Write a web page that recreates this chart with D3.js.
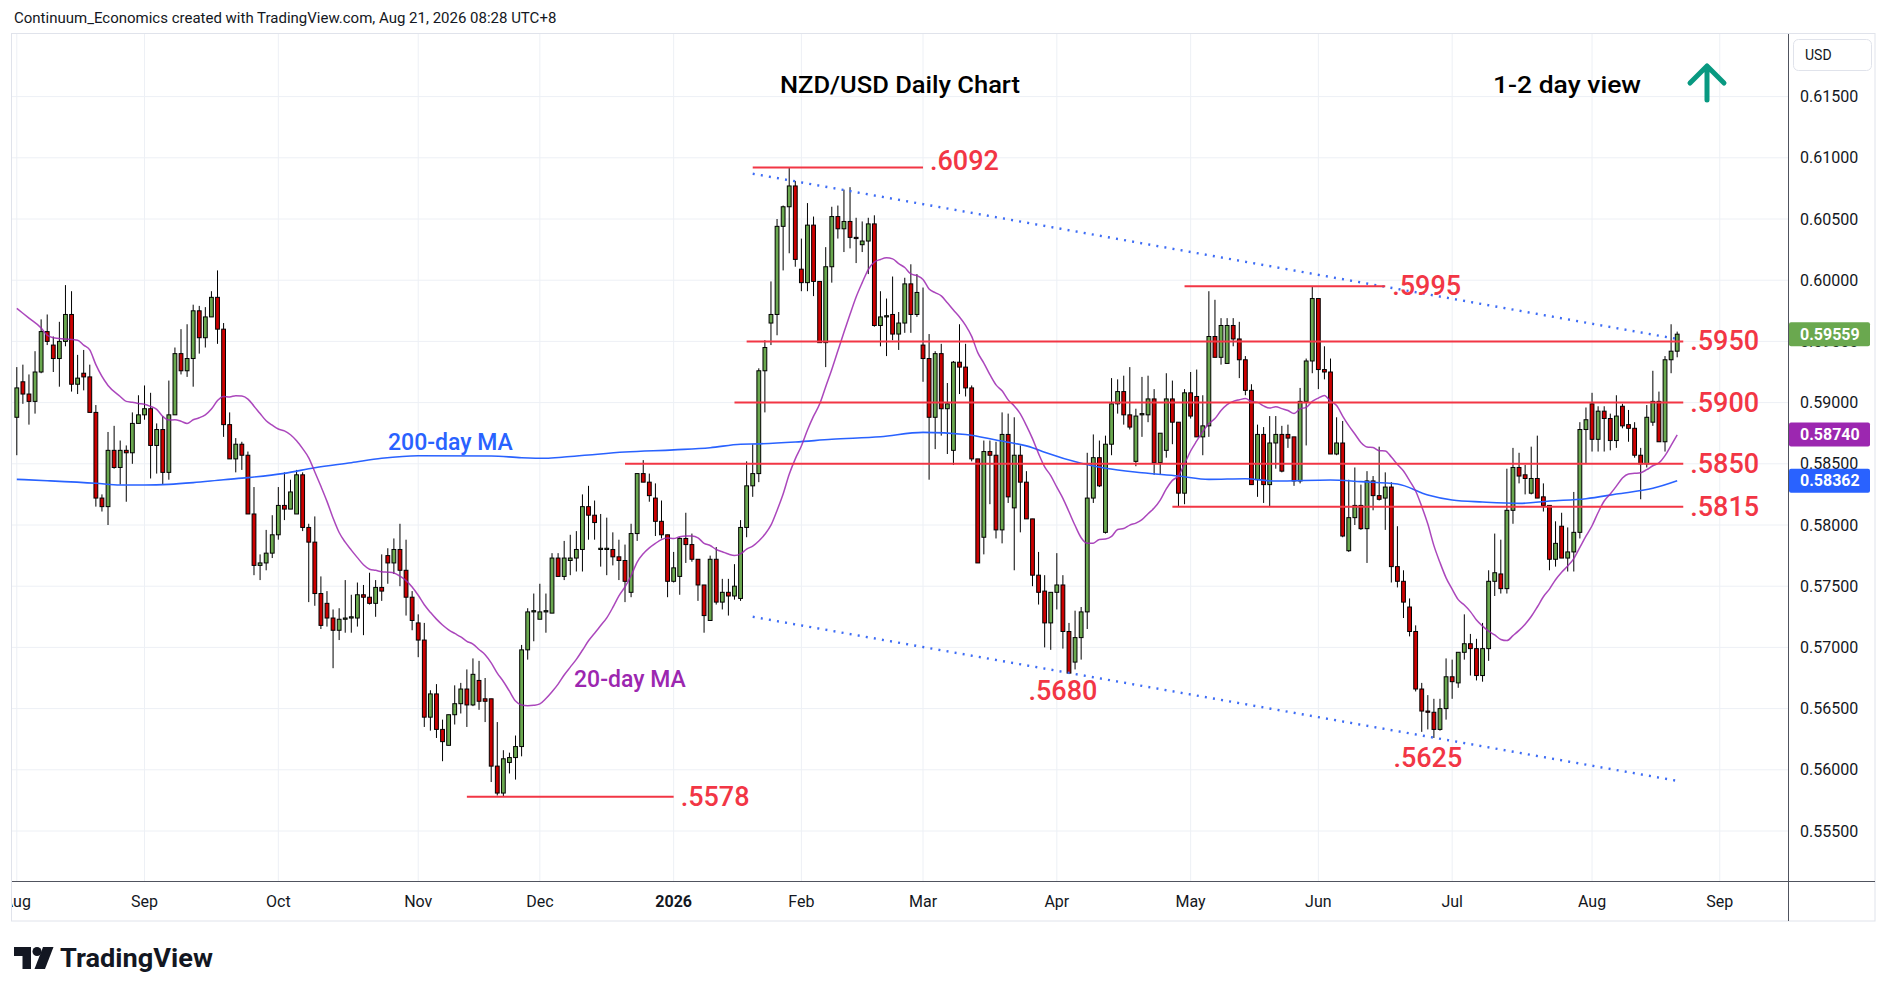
<!DOCTYPE html>
<html>
<head>
<meta charset="utf-8">
<title>NZD/USD Daily Chart</title>
<script src="https://cdn.jsdelivr.net/npm/d3@7/dist/d3.min.js"></script>
<style>
  html, body { margin: 0; padding: 0; background: #ffffff; }
  #chart { width: 1888px; height: 996px; }
  text { font-family: Roboto, "Noto Sans", sans-serif; }
</style>
</head>
<body>
<div id="chart"></div>
<script>
// ---- data: NZD/USD daily bars, Aug 1 2025 -> Aug 21 2026 (weekdays, no Dec 25 / Jan 1)
const startDate = '2025-08-01';
const calendarEnd = '2026-09-30';
const holidays = ['2025-12-25', '2026-01-01'];

const opens = [
  .5888,.5917,.5907,.5901,.5925,.5958,.5947,.5936,.5950,.5972,
  .5915,.5924,.5921,.5892,.5822,.5815,.5861,.5847,.5861,.5859,
  .5883,.5890,.5895,.5865,.5878,.5843,.5890,.5940,.5926,.5936,
  .5975,.5953,.5970,.5986,.5960,.5882,.5854,.5866,.5857,.5809,
  .5767,.5769,.5777,.5792,.5816,.5813,.5809,.5841,.5798,.5786,
  .5744,.5736,.5724,.5714,.5723,.5724,.5724,.5743,.5741,.5736,
  .5749,.5775,.5769,.5780,.5763,.5741,.5720,.5706,.5643,.5662,
  .5633,.5620,.5645,.5654,.5666,.5653,.5673,.5658,.5658,.5603,
  .5581,.5606,.5610,.5619,.5698,.5729,.5723,.5729,.5728,.5773,
  .5758,.5771,.5773,.5780,.5815,.5808,.5780,.5780,.5780,.5774,
  .5771,.5745,.5793,.5842,.5835,.5822,.5803,.5792,.5754,.5758,
  .5789,.5784,.5772,.5751,.5722,.5772,.5737,.5745,.5742,.5740,
  .5798,.5832,.5842,.5926,.5965,.5972,.6044,.6060,.6077,.6009,
  .5998,.6045,.5999,.5949,.6011,.6052,.6042,.6048,.6035,.6029,
  .6032,.6046,.5963,.5970,.5972,.5956,.5965,.5997,.5972,.5947,
  .5936,.5888,.5940,.5895,.5861,.5933,.5929,.5912,.5854,.5790,
  .5860,.5857,.5796,.5874,.5814,.5857,.5835,.5805,.5759,.5746,
  .5720,.5745,.5751,.5713,.5688,.5708,.5729,.5822,.5855,.5794,
  .5866,.5899,.5909,.5890,.5852,.5890,.5890,.5903,.5851,.5861,
  .5903,.5884,.5826,.5908,.5905,.5872,.5881,.5954,.5937,.5932,
  .5963,.5952,.5935,.5910,.5837,.5874,.5833,.5867,.5874,.5874,
  .5872,.5836,.5901,.5934,.5985,.5927,.5925,.5858,.5867,.5779,
  .5806,.5816,.5797,.5836,.5824,.5822,.5831,.5766,.5754,.5733,
  .5713,.5666,.5648,.5647,.5633,.5650,.5676,.5671,.5696,.5703,
  .5699,.5677,.5699,.5754,.5760,.5748,.5812,.5847,.5841,.5826,
  .5838,.5823,.5816,.5772,.5799,.5773,.5778,.5794,.5878,.5899,
  .5870,.5893,.5887,.5869,.5897,.5882,.5879,.5857,.5850,.5884,
  .5901,.5868,.5935,.5942
];
const highs = [
  .5929,.5931,.5923,.5942,.5968,.5972,.5954,.5966,.5996,.5991,
  .5939,.5943,.5931,.5898,.5825,.5876,.5881,.5869,.5865,.5892,
  .5906,.5914,.5908,.5883,.5889,.5918,.5945,.5960,.5964,.5980,
  .5979,.5978,.5991,.6008,.5965,.5892,.5871,.5868,.5860,.5831,
  .5776,.5796,.5808,.5831,.5843,.5837,.5845,.5843,.5801,.5807,
  .5758,.5746,.5731,.5732,.5755,.5743,.5753,.5751,.5761,.5755,
  .5776,.5781,.5789,.5801,.5788,.5746,.5727,.5720,.5665,.5670,
  .5641,.5645,.5669,.5671,.5682,.5691,.5689,.5675,.5658,.5639,
  .5616,.5614,.5628,.5702,.5732,.5744,.5752,.5744,.5777,.5777,
  .5787,.5792,.5795,.5825,.5832,.5820,.5809,.5806,.5794,.5788,
  .5784,.5801,.5842,.5853,.5842,.5834,.5820,.5792,.5778,.5790,
  .5810,.5793,.5772,.5751,.5775,.5782,.5756,.5756,.5768,.5804,
  .5852,.5866,.5928,.5951,.5999,.6050,.6061,.6092,.6081,.6034,
  .6063,.6052,.5999,.6027,.6060,.6061,.6074,.6076,.6051,.6048,
  .6051,.6053,.5991,.5985,.6003,.5974,.6002,.6013,.6005,.5994,
  .5956,.5942,.5948,.5916,.5934,.5964,.5948,.5914,.5854,.5869,
  .5869,.5868,.5892,.5891,.5888,.5865,.5844,.5805,.5778,.5759,
  .5745,.5777,.5759,.5720,.5730,.5733,.5859,.5874,.5869,.5873,
  .5920,.5919,.5922,.5929,.5895,.5921,.5922,.5911,.5875,.5924,
  .5918,.5884,.5911,.5925,.5927,.5906,.5991,.5984,.5969,.5969,
  .5969,.5966,.5938,.5915,.5882,.5880,.5889,.5889,.5881,.5882,
  .5872,.5912,.5936,.5995,.5985,.5946,.5936,.5888,.5885,.5837,
  .5847,.5833,.5844,.5840,.5864,.5843,.5835,.5799,.5763,.5740,
  .5718,.5671,.5661,.5658,.5658,.5691,.5690,.5696,.5727,.5711,
  .5707,.5720,.5763,.5793,.5788,.5846,.5863,.5859,.5849,.5864,
  .5873,.5834,.5816,.5803,.5810,.5798,.5827,.5884,.5896,.5908,
  .5897,.5897,.5891,.5906,.5899,.5894,.5884,.5863,.5898,.5926,
  .5909,.5938,.5964,.5958
];
const lows = [
  .5857,.5899,.5882,.5891,.5924,.5947,.5925,.5913,.5946,.5909,
  .5907,.5910,.5892,.5815,.5811,.5800,.5846,.5833,.5819,.5850,
  .5883,.5886,.5838,.5842,.5833,.5837,.5890,.5923,.5921,.5913,
  .5940,.5945,.5970,.5948,.5872,.5854,.5843,.5845,.5809,.5759,
  .5755,.5763,.5773,.5788,.5804,.5813,.5809,.5795,.5737,.5734,
  .5715,.5717,.5683,.5706,.5712,.5712,.5717,.5710,.5735,.5725,
  .5738,.5752,.5760,.5750,.5726,.5714,.5692,.5635,.5632,.5626,
  .5607,.5620,.5637,.5646,.5635,.5652,.5649,.5639,.5590,.5579,
  .5578,.5597,.5592,.5611,.5690,.5705,.5723,.5712,.5728,.5758,
  .5755,.5759,.5762,.5762,.5788,.5788,.5766,.5759,.5767,.5755,
  .5737,.5741,.5787,.5835,.5819,.5791,.5789,.5741,.5753,.5743,
  .5769,.5770,.5738,.5712,.5722,.5735,.5731,.5726,.5739,.5738,
  .5790,.5823,.5835,.5892,.5947,.5955,.6008,.6022,.6011,.5991,
  .5991,.5987,.5949,.5929,.5998,.6034,.6023,.6026,.6014,.6023,
  .6005,.5962,.5946,.5938,.5951,.5943,.5957,.5957,.5970,.5917,
  .5837,.5862,.5873,.5858,.5849,.5907,.5905,.5852,.5769,.5776,
  .5817,.5789,.5785,.5818,.5763,.5794,.5805,.5750,.5735,.5700,
  .5698,.5731,.5699,.5679,.5682,.5690,.5715,.5818,.5831,.5793,
  .5857,.5891,.5882,.5878,.5848,.5872,.5884,.5841,.5841,.5855,
  .5866,.5815,.5817,.5887,.5872,.5857,.5872,.5937,.5931,.5932,
  .5946,.5920,.5906,.5833,.5823,.5818,.5815,.5846,.5843,.5863,
  .5832,.5834,.5865,.5924,.5911,.5919,.5858,.5857,.5790,.5778,
  .5800,.5796,.5769,.5812,.5820,.5796,.5753,.5749,.5724,.5709,
  .5664,.5631,.5633,.5626,.5632,.5641,.5658,.5667,.5690,.5677,
  .5673,.5672,.5689,.5742,.5744,.5744,.5801,.5834,.5825,.5825,
  .5822,.5811,.5763,.5766,.5773,.5762,.5762,.5789,.5850,.5860,
  .5860,.5860,.5861,.5863,.5879,.5868,.5855,.5821,.5847,.5881,
  .5868,.5860,.5924,.5937
];
const closes = [
  .5912,.5907,.5901,.5925,.5958,.5950,.5936,.5950,.5972,.5915,
  .5920,.5921,.5892,.5822,.5815,.5861,.5847,.5861,.5859,.5883,
  .5890,.5895,.5865,.5878,.5843,.5890,.5940,.5926,.5936,.5975,
  .5953,.5970,.5986,.5960,.5882,.5854,.5866,.5857,.5809,.5767,
  .5769,.5777,.5792,.5816,.5813,.5827,.5841,.5798,.5786,.5744,
  .5718,.5724,.5714,.5723,.5724,.5725,.5743,.5741,.5736,.5749,
  .5746,.5769,.5780,.5763,.5741,.5722,.5706,.5643,.5662,.5633,
  .5623,.5645,.5654,.5666,.5653,.5678,.5656,.5656,.5603,.5581,
  .5609,.5610,.5619,.5698,.5729,.5730,.5729,.5730,.5773,.5758,
  .5773,.5773,.5780,.5815,.5808,.5802,.5781,.5781,.5774,.5771,
  .5754,.5793,.5842,.5835,.5824,.5803,.5792,.5754,.5765,.5789,
  .5784,.5772,.5751,.5726,.5772,.5737,.5745,.5742,.5750,.5798,
  .5832,.5842,.5926,.5945,.5972,.6044,.6060,.6077,.6017,.5998,
  .6045,.5999,.5949,.6011,.6052,.6042,.6048,.6035,.6034,.6032,
  .6046,.5963,.5970,.5971,.5956,.5965,.5997,.5972,.5990,.5936,
  .5888,.5940,.5895,.5899,.5933,.5929,.5912,.5854,.5769,.5860,
  .5857,.5796,.5874,.5823,.5857,.5835,.5805,.5759,.5745,.5720,
  .5745,.5751,.5713,.5679,.5708,.5729,.5822,.5855,.5832,.5866,
  .5899,.5909,.5890,.5880,.5889,.5891,.5903,.5851,.5875,.5903,
  .5884,.5826,.5908,.5889,.5872,.5881,.5954,.5937,.5963,.5963,
  .5952,.5935,.5910,.5833,.5874,.5833,.5867,.5874,.5844,.5871,
  .5836,.5901,.5934,.5985,.5927,.5925,.5858,.5867,.5791,.5806,
  .5816,.5797,.5836,.5824,.5821,.5831,.5766,.5754,.5737,.5713,
  .5666,.5648,.5647,.5633,.5650,.5676,.5672,.5696,.5703,.5699,
  .5677,.5699,.5754,.5761,.5748,.5812,.5847,.5840,.5838,.5838,
  .5822,.5816,.5772,.5785,.5773,.5778,.5794,.5878,.5886,.5870,
  .5893,.5887,.5869,.5889,.5881,.5879,.5857,.5850,.5888,.5901,
  .5868,.5935,.5942,.59559
];

// 20-day MA before the first full 20-bar window
const ma20LeadDates = ['2025-08-01','2025-08-05','2025-08-07','2025-08-08','2025-08-11','2025-08-13',
  '2025-08-15','2025-08-18','2025-08-19','2025-08-20','2025-08-22','2025-08-26','2025-08-27'];
const ma20LeadValues = [.5977,.5969,.5961,.5955,.5953,.5952,.5951,.5947,.5943,.5931,.5914,.5905,.5901];

// 200-day MA (history before the visible window is not shown, so read off the chart)
const ma200Dates = ['2025-08-01','2025-08-08','2025-08-20','2025-08-26','2025-09-01','2025-09-05','2025-09-11',
  '2025-09-18','2025-09-24','2025-10-02','2025-10-09','2025-10-17','2025-10-24','2025-11-03','2025-11-19',
  '2025-11-26','2025-12-02','2025-12-05','2025-12-11','2025-12-19','2026-01-02','2026-01-12','2026-01-19',
  '2026-01-22','2026-01-30','2026-02-09','2026-02-19','2026-03-02','2026-03-11','2026-03-18','2026-03-26',
  '2026-03-30','2026-04-07','2026-04-13','2026-04-21','2026-04-29','2026-05-06','2026-05-14','2026-05-21',
  '2026-06-03','2026-06-10','2026-06-18','2026-06-25','2026-07-01','2026-07-08','2026-07-16','2026-07-23',
  '2026-07-31','2026-08-07','2026-08-17','2026-08-21'];
const ma200Values = [.58373,.58362,.58341,.58327,.58327,.58332,.58346,.58370,.58387,.58422,.58468,.58509,
  .58545,.58566,.58564,.58550,.58545,.58555,.58572,.58596,.58614,.58631,.58660,.58663,.58678,.58700,.58721,
  .58757,.58740,.58694,.58631,.58594,.58504,.58463,.58427,.58400,.58373,.58378,.58359,.58368,.58354,.58335,
  .58245,.58204,.58188,.58177,.58196,.58215,.58253,.58300,.58362];

// support / resistance levels
const levelPrices = [0.6092, 0.5995, 0.5950, 0.5900, 0.5850, 0.5815, 0.5578];
const levelFrom = ['2026-01-21','2026-04-30','2026-01-20','2026-01-16','2025-12-19','2026-04-28','2025-11-13'];
const levelTo = ['2026-03-02','2026-06-16','2026-08-24','2026-08-24','2026-08-24','2026-08-24','2026-01-02'];
const levelText = ['.6092','.5995','.5950','.5900','.5850','.5815','.5578'];

// swing low labels
const lowPrices = [0.5680, 0.5625];
const lowDates = ['2026-04-02','2026-06-25'];
const lowText = ['.5680','.5625'];

// falling channel (dotted)
const channelDates = ['2026-01-21','2026-08-21'];
const channelUpper = [0.6087, 0.5952];
const channelLower = [0.5725, 0.5591];

// right axis value tags: last price, 20-day MA, 200-day MA
const tagValues = [0.59559, 0.58740, 0.58362];

// ---- layout
const W = 1888, H = 996;
const plot = {l: 12, r: 1788, t: 34, b: 881};
const frame = {r: 1875, b: 921};
const upColor = '#6aa84f', downColor = '#cc0000';
const levelColor = '#f23645', ma20Color = '#9c27b0', ma200Color = '#2962ff';
const tagColors = ['#6aa84f', '#9c27b0', '#2962ff'];
const bodyW = 3.8;

const fmtDay = d3.utcFormat('%Y-%m-%d');
const parseDay = d3.utcParse('%Y-%m-%d');
const calendar = d3.utcDay.range(parseDay(startDate), parseDay(calendarEnd))
  .filter(d => d.getUTCDay() % 6 !== 0 && !holidays.includes(fmtDay(d)));
const dayIndex = new Map(calendar.map((d, i) => [fmtDay(d), i]));

const bars = opens.map((o, i) => ({i, date: calendar[i], o, h: highs[i], l: lows[i], c: closes[i]}));

// 20-day simple moving average from closes
const ma20 = ma20LeadDates.map((d, k) => ({i: dayIndex.get(d), v: ma20LeadValues[k]}));
for (let i = 19; i < bars.length; i++) {
  ma20.push({i, v: d3.mean(closes.slice(i - 19, i + 1))});
}
const ma200 = ma200Dates.map((d, k) => ({i: dayIndex.get(d), v: ma200Values[k]}));

const x = d3.scaleLinear().domain([0, bars.length - 1]).range([16.8, 16.8 + (bars.length - 1) * 6.082]);
const xd = s => x(dayIndex.get(s));
const y = d3.scaleLinear().domain([0.555, 0.615]).range([831, 96.6]);

const svg = d3.select('#chart').append('svg')
  .attr('width', W).attr('height', H)
  .style('background', '#fff');

svg.append('defs').append('clipPath').attr('id', 'plot-clip')
  .append('rect').attr('x', plot.l).attr('y', plot.t)
  .attr('width', plot.r - plot.l).attr('height', plot.b - plot.t);
svg.select('defs').append('clipPath').attr('id', 'time-clip')
  .append('rect').attr('x', plot.l).attr('y', plot.b)
  .attr('width', plot.r - plot.l).attr('height', frame.b - plot.b);

// header
svg.append('text')
  .attr('x', 14).attr('y', 18)
  .attr('dominant-baseline', 'central')
  .style('font-size', '15px').style('fill', '#131722')
  .text('Continuum_Economics created with TradingView.com, Aug 21, 2026 08:28 UTC+8');

// grid
const grid = svg.append('g').attr('clip-path', 'url(#plot-clip)');
const yTicks = d3.ticks(0.555, 0.615, 12);
grid.selectAll('.hgrid').data(yTicks).enter().append('line')
  .attr('x1', plot.l).attr('x2', plot.r)
  .attr('y1', d => y(d)).attr('y2', d => y(d))
  .attr('stroke', '#edf0f5').attr('stroke-width', 1);

const monthStarts = calendar
  .map((d, i) => ({d, i}))
  .filter((m, k, arr) => k === 0 || m.d.getUTCMonth() !== arr[k - 1].d.getUTCMonth());
grid.selectAll('.vgrid').data(monthStarts).enter().append('line')
  .attr('x1', m => x(m.i)).attr('x2', m => x(m.i))
  .attr('y1', plot.t).attr('y2', plot.b)
  .attr('stroke', '#edf0f5').attr('stroke-width', 1);

// candles
const plotG = svg.append('g').attr('clip-path', 'url(#plot-clip)');
const candles = plotG.selectAll('.candle').data(bars).enter()
  .append('g').classed('candle', true);
candles.append('line')
  .attr('x1', d => x(d.i)).attr('x2', d => x(d.i))
  .attr('y1', d => y(d.h)).attr('y2', d => y(d.l))
  .attr('stroke', '#000').attr('stroke-width', 1);
candles.append('rect')
  .attr('x', d => x(d.i) - bodyW / 2)
  .attr('y', d => y(Math.max(d.o, d.c)))
  .attr('width', bodyW)
  .attr('height', d => Math.max(0.8, Math.abs(y(d.o) - y(d.c))))
  .attr('fill', d => d.c >= d.o ? upColor : downColor)
  .attr('stroke', '#000').attr('stroke-width', 1);

// moving averages
const maLine = d3.line().x(d => x(d.i)).y(d => y(d.v)).curve(d3.curveMonotoneX);
plotG.append('path').datum(ma200)
  .attr('d', maLine).attr('fill', 'none')
  .attr('stroke', ma200Color).attr('stroke-width', 1.6);
plotG.append('path').datum(ma20)
  .attr('d', maLine).attr('fill', 'none')
  .attr('stroke', ma20Color).attr('stroke-width', 1.5).attr('stroke-opacity', 0.85);

// channel lines
[channelUpper, channelLower].forEach(c => {
  plotG.append('line')
    .attr('x1', xd(channelDates[0])).attr('y1', y(c[0]))
    .attr('x2', xd(channelDates[1])).attr('y2', y(c[1]))
    .attr('stroke', '#3d6cf5').attr('stroke-width', 2.4)
    .attr('stroke-dasharray', '2 6.2');
});

// levels
plotG.selectAll('.level').data(levelPrices).enter().append('line')
  .attr('x1', (p, k) => xd(levelFrom[k])).attr('x2', (p, k) => xd(levelTo[k]))
  .attr('y1', p => y(p)).attr('y2', p => y(p))
  .attr('stroke', levelColor).attr('stroke-width', 2);
plotG.selectAll('.level-label').data(levelPrices).enter().append('text')
  .attr('x', (p, k) => xd(levelTo[k]) + 7)
  .attr('y', (p, k) => y(p) - (k === 0 ? 7 : 0))
  .attr('dominant-baseline', 'central')
  .style('font-size', '27px').style('font-weight', 500).style('fill', levelColor)
  .text((p, k) => levelText[k]);
plotG.selectAll('.low-label').data(lowPrices).enter().append('text')
  .attr('x', (p, k) => xd(lowDates[k]))
  .attr('y', p => y(p) + 19)
  .attr('text-anchor', 'middle')
  .attr('dominant-baseline', 'central')
  .style('font-size', '27px').style('font-weight', 500).style('fill', levelColor)
  .text((p, k) => lowText[k]);

// chart annotations
plotG.append('text')
  .attr('x', 388).attr('y', 442).attr('dominant-baseline', 'central')
  .style('font-size', '23px').style('font-weight', 500).style('fill', ma200Color)
  .text('200-day MA');
plotG.append('text')
  .attr('x', 574).attr('y', 679).attr('dominant-baseline', 'central')
  .style('font-size', '23px').style('font-weight', 500).style('fill', ma20Color)
  .text('20-day MA');
plotG.append('text')
  .attr('x', 780).attr('y', 85).attr('dominant-baseline', 'central')
  .attr('textLength', 240).attr('lengthAdjust', 'spacingAndGlyphs')
  .style('font-size', '24px').style('font-weight', 500).style('fill', '#000')
  .text('NZD/USD Daily Chart');
plotG.append('text')
  .attr('x', 1493).attr('y', 85).attr('dominant-baseline', 'central')
  .attr('textLength', 148).attr('lengthAdjust', 'spacingAndGlyphs')
  .style('font-size', '24px').style('font-weight', 500).style('fill', '#000')
  .text('1-2 day view');
plotG.append('path')
  .attr('d', 'M1707,100 V66 M1690,83 L1707,66 L1724,83')
  .attr('fill', 'none').attr('stroke', '#089981')
  .attr('stroke-width', 5).attr('stroke-linecap', 'round').attr('stroke-linejoin', 'round');

// frame and axes
svg.append('rect')
  .attr('x', plot.l - 0.5).attr('y', plot.t - 0.5)
  .attr('width', frame.r - plot.l + 0.5).attr('height', frame.b - plot.t + 0.5)
  .attr('fill', 'none').attr('stroke', '#e0e3eb');
svg.append('line')
  .attr('x1', plot.r + 0.5).attr('x2', plot.r + 0.5).attr('y1', plot.t).attr('y2', frame.b)
  .attr('stroke', '#50535e');
svg.append('line')
  .attr('x1', plot.l).attr('x2', frame.r).attr('y1', plot.b + 0.5).attr('y2', plot.b + 0.5)
  .attr('stroke', '#50535e');

// price axis
const yAxis = svg.append('g');
yAxis.selectAll('.ytick').data(yTicks).enter().append('text')
  .attr('x', 1800).attr('y', d => y(d))
  .attr('dominant-baseline', 'central')
  .style('font-size', '16px').style('fill', '#131722')
  .text(d3.format('.5f'));
yAxis.append('rect')
  .attr('x', 1793.5).attr('y', 39.5).attr('width', 78).attr('height', 31).attr('rx', 5)
  .attr('fill', '#fff').attr('stroke', '#e0e3eb');
yAxis.append('text')
  .attr('x', 1805).attr('y', 55).attr('dominant-baseline', 'central')
  .style('font-size', '14px').style('fill', '#131722').text('USD');
const tags = yAxis.selectAll('.tag').data(tagValues).enter().append('g');
tags.append('rect')
  .attr('x', 1789).attr('y', v => y(v) - 12).attr('width', 81).attr('height', 24).attr('rx', 2)
  .attr('fill', (v, k) => tagColors[k]);
tags.append('text')
  .attr('x', 1800).attr('y', v => y(v))
  .attr('dominant-baseline', 'central')
  .style('font-size', '16px').style('font-weight', 700).style('fill', '#fff')
  .text(d3.format('.5f'));

// time axis
svg.append('g').attr('clip-path', 'url(#time-clip)')
  .selectAll('.xtick').data(monthStarts).enter().append('text')
  .attr('x', m => x(m.i)).attr('y', 901)
  .attr('text-anchor', 'middle').attr('dominant-baseline', 'central')
  .style('font-size', '16px').style('fill', '#131722')
  .style('font-weight', m => m.d.getUTCMonth() === 0 ? 700 : 400)
  .text(m => m.d.getUTCMonth() === 0 ? d3.utcFormat('%Y')(m.d) : d3.utcFormat('%b')(m.d));

// footer logo
const logo = svg.append('g').attr('fill', '#131722');
logo.append('path').attr('d', 'M14,947 H31 V969 H22.5 V956 H14 Z');
logo.append('circle').attr('cx', 37).attr('cy', 951.5).attr('r', 4.5);
logo.append('path').attr('d', 'M43,947 H53.5 L45,969 H34.5 Z');
logo.append('text')
  .attr('x', 60).attr('y', 958).attr('dominant-baseline', 'central')
  .attr('textLength', 153).attr('lengthAdjust', 'spacingAndGlyphs')
  .style('font-size', '25px').style('font-weight', 700)
  .text('TradingView');
</script>
</body>
</html>
